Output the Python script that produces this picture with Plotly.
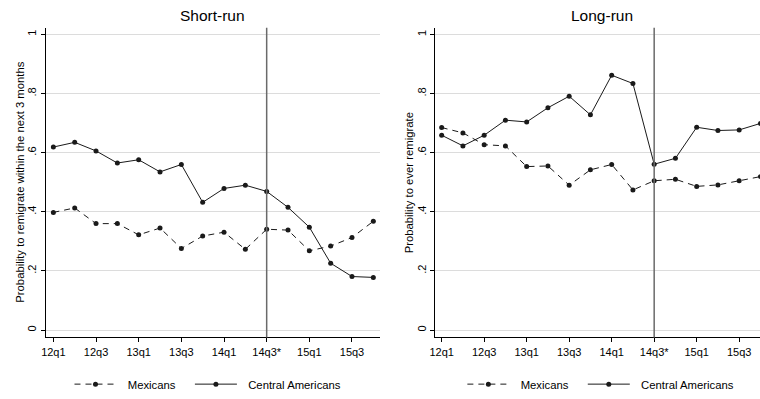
import plotly.graph_objects as go

# Survey quarters (x axis) and the tick labels shown every second quarter
quarters = ["12q1", "12q2", "12q3", "12q4", "13q1", "13q2", "13q3", "13q4",
            "14q1", "14q2", "14q3", "14q4", "15q1", "15q2", "15q3", "15q4"]
tick_labels = ["12q1", "12q3", "13q1", "13q3", "14q1", "14q3*", "15q1", "15q3"]
break_quarter = "14q3"

# Short-run: probability to remigrate within the next 3 months
short_mex = [0.398, 0.413, 0.360, 0.360, 0.322, 0.345, 0.276, 0.318,
             0.331, 0.273, 0.341, 0.338, 0.268, 0.284, 0.313, 0.368]
short_cam = [0.619, 0.635, 0.606, 0.565, 0.576, 0.535, 0.560, 0.432,
             0.479, 0.490, 0.469, 0.415, 0.348, 0.226, 0.181, 0.178]

# Long-run: probability to ever remigrate
long_mex = [0.685, 0.667, 0.627, 0.623, 0.553, 0.555, 0.490, 0.542,
            0.560, 0.474, 0.505, 0.510, 0.486, 0.491, 0.505, 0.519]
long_cam = [0.659, 0.623, 0.659, 0.710, 0.704, 0.752, 0.791, 0.728,
            0.862, 0.834, 0.561, 0.581, 0.686, 0.675, 0.677, 0.699]

y_ticks = [0, 0.2, 0.4, 0.6, 0.8, 1]
y_tick_text = ["0", ".2", ".4", ".6", ".8", "1"]

W, H = 760, 399
FONT = "Liberation Sans, Arial, sans-serif"
INK = "#1a1a1a"
LEAD = "\u00a0\u00a0"        # gap between legend key and its label
TRAIL = "\u00a0\u00a0\u00a0"  # extra room before the next legend entry

xs = list(range(len(quarters)))
tick_idx = list(range(0, len(quarters), 2))
break_idx = quarters.index(break_quarter)

fig = go.Figure()


def add_series(values, name, dash, xa, ya, legend):
    fig.add_trace(go.Scatter(
        x=xs, y=values, name=LEAD + name + TRAIL, mode="lines+markers",
        line=dict(color=INK, width=1, dash=dash),
        marker=dict(color=INK, size=5),
        xaxis=xa, yaxis=ya, legend=legend,
    ))


add_series(short_mex, "Mexicans", "6px,5px", "x", "y", "legend")
add_series(short_cam, "Central Americans", "solid", "x", "y", "legend")
add_series(long_mex, "Mexicans", "6px,5px", "x2", "y2", "legend2")
add_series(long_cam, "Central Americans", "solid", "x2", "y2", "legend2")

y_dom = [(H - 341.7) / H, (H - 28) / H]
left_dom = [40 / W, 376.7 / W]
right_dom = [432.5 / W, 1.0]

xaxis_common = dict(
    tickmode="array", tickvals=tick_idx, ticktext=tick_labels,
    showgrid=False, zeroline=False, showline=True, mirror=False,
    linecolor="black", linewidth=1, ticks="outside", ticklen=4,
    tickcolor="black", showspikes=False,
    tickfont=dict(family=FONT, size=11, color="black"),
)
yaxis_common = dict(
    range=[-0.025, 1.023], domain=y_dom,
    tickmode="array", tickvals=y_ticks, ticktext=y_tick_text,
    tickangle=-90, showgrid=True, gridcolor="#dcdcdc", gridwidth=1,
    zeroline=False, showline=True, mirror=False, linecolor="black",
    linewidth=1, ticks="outside", ticklen=4, tickcolor="black",
    showspikes=False,
    tickfont=dict(family=FONT, size=11, color="black"),
)

legend_common = dict(
    orientation="h", yanchor="middle", y=(H - 389) / H, xanchor="left",
    font=dict(family=FONT, size=11.3, color="black"),
    itemwidth=42, bgcolor="rgba(0,0,0,0)", tracegroupgap=0,
)

fig.update_layout(
    width=W, height=H,
    margin=dict(l=0, r=0, t=0, b=0),
    paper_bgcolor="white", plot_bgcolor="white",
    font=dict(family=FONT, color="black"),
    hovermode=False,
    xaxis=dict(domain=left_dom, range=[-0.36, 15.3], anchor="y", **xaxis_common),
    yaxis=dict(anchor="x", **yaxis_common),
    xaxis2=dict(domain=right_dom, range=[-0.31, 14.98], anchor="y2", **xaxis_common),
    yaxis2=dict(anchor="x2", **yaxis_common),
    legend=dict(x=64 / W, **legend_common),
    legend2=dict(x=460 / W, **legend_common),
)

# Vertical reference line at the policy quarter
for xr, yr in (("x", "y domain"), ("x2", "y2 domain")):
    fig.add_shape(type="line", xref=xr, yref=yr, x0=break_idx, x1=break_idx,
                  y0=0, y1=1, line=dict(color="#6a6a6a", width=1.5))

# Panel titles
for text, xc in (("Short-run", 208.3 / W), ("Long-run", 600.5 / W)):
    fig.add_annotation(text=text, xref="paper", yref="paper", x=xc, y=(H - 16) / H,
                       xanchor="center", yanchor="middle", showarrow=False,
                       font=dict(family=FONT, size=15.5, color="black"))

# Rotated y-axis titles
y_mid = (y_dom[0] + y_dom[1]) / 2
for text, xp in (("Probability to remigrate within the next 3 months", 13.3 / W),
                 ("Probability to ever remigrate", 406 / W)):
    fig.add_annotation(text=text, xref="paper", yref="paper", x=xp, y=y_mid,
                       xanchor="center", yanchor="middle", textangle=-90,
                       showarrow=False, font=dict(family=FONT, size=11.3, color="black"))

fig.write_html("out.html")
